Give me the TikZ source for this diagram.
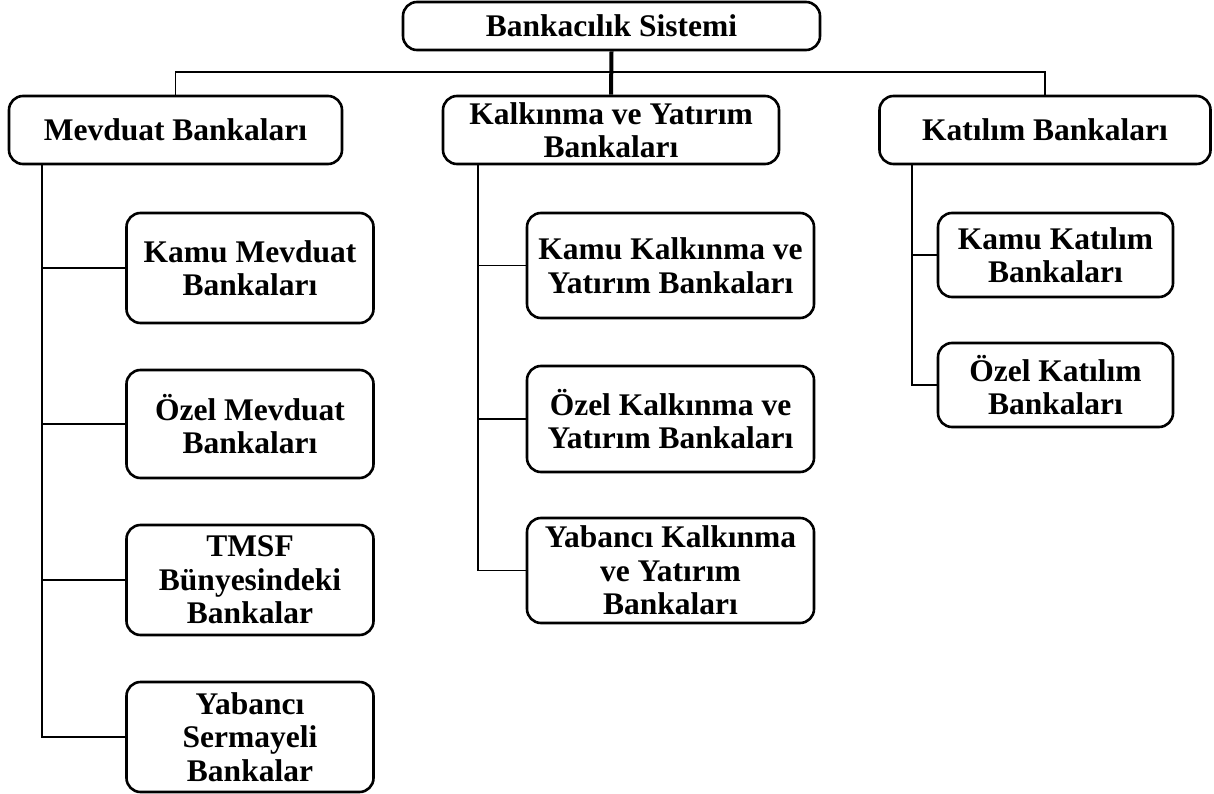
\documentclass[tikz,border=0pt]{standalone}
\usepackage{fontspec}
\setmainfont{Liberation Serif}
\begin{document}
\begin{tikzpicture}[x=1pt,y=-1pt,
  box/.style={draw=black,line width=2.6pt,rounded corners=14pt,fill=white,
    inner sep=0pt,align=center,font=\bfseries\fontsize{31.5}{33.5}\selectfont},
  conn/.style={draw=black,line width=1.5pt},
  mainconn/.style={draw=black,line width=4pt}]
\useasboundingbox (0,0) rectangle (1214,794);
% top
\node[box,minimum width=417pt,minimum height=48pt] (top) at (611.5,26) {Bankacılık Sistemi};
% level 1
\node[box,minimum width=333pt,minimum height=68pt] (mev) at (175.5,130) {Mevduat Bankaları};
\node[box,minimum width=336pt,minimum height=68pt] (kal) at (611,130) {Kalkınma ve Yatırım\\Bankaları};
\node[box,minimum width=331pt,minimum height=68pt] (kat) at (1045,130) {Katılım Bankaları};
% Mevduat children
\node[box,minimum width=247pt,minimum height=110pt] (m1) at (250,268) {Kamu Mevduat\\Bankaları};
\node[box,minimum width=247pt,minimum height=108pt] (m2) at (250,424) {Özel Mevduat\\Bankaları};
\node[box,minimum width=247pt,minimum height=110pt] (m3) at (250,580) {TMSF\\Bünyesindeki\\Bankalar};
\node[box,minimum width=247pt,minimum height=110pt] (m4) at (250,737) {Yabancı\\Sermayeli\\Bankalar};
% Kalkinma children
\node[box,minimum width=287pt,minimum height=105pt] (k1) at (670.5,265.5) {Kamu Kalkınma ve\\Yatırım Bankaları};
\node[box,minimum width=287pt,minimum height=106pt] (k2) at (670.5,419) {Özel Kalkınma ve\\Yatırım Bankaları};
\node[box,minimum width=287pt,minimum height=105pt] (k3) at (670.5,570.5) {Yabancı Kalkınma\\ve Yatırım\\Bankaları};
% Katilim children
\node[box,minimum width=235pt,minimum height=84pt] (t1) at (1055.5,255) {Kamu Katılım\\Bankaları};
\node[box,minimum width=235pt,minimum height=84pt] (t2) at (1055.5,385) {Özel Katılım\\Bankaları};
% helper coordinates
\coordinate (hbar) at (0,72);
\coordinate (msp) at (42,0);
\coordinate (ksp) at (478,0);
\coordinate (tsp) at (912,0);
% connectors
\begin{scope}[on background layer/.style={}]
\draw[conn] (mev.north) -- (mev.north |- hbar) -- (kat.north |- hbar) -- (kat.north);
\draw[mainconn] (top.south) -- (kal.north);
\draw[conn] (msp |- mev.south) -- (msp |- m4.west) -- (m4.west);
\draw[conn] (msp |- m1.west) -- (m1.west);
\draw[conn] (msp |- m2.west) -- (m2.west);
\draw[conn] (msp |- m3.west) -- (m3.west);
\draw[conn] (ksp |- kal.south) -- (ksp |- k3.west) -- (k3.west);
\draw[conn] (ksp |- k1.west) -- (k1.west);
\draw[conn] (ksp |- k2.west) -- (k2.west);
\draw[conn] (tsp |- kat.south) -- (tsp |- t2.west) -- (t2.west);
\draw[conn] (tsp |- t1.west) -- (t1.west);
\end{scope}
\end{tikzpicture}
\end{document}
